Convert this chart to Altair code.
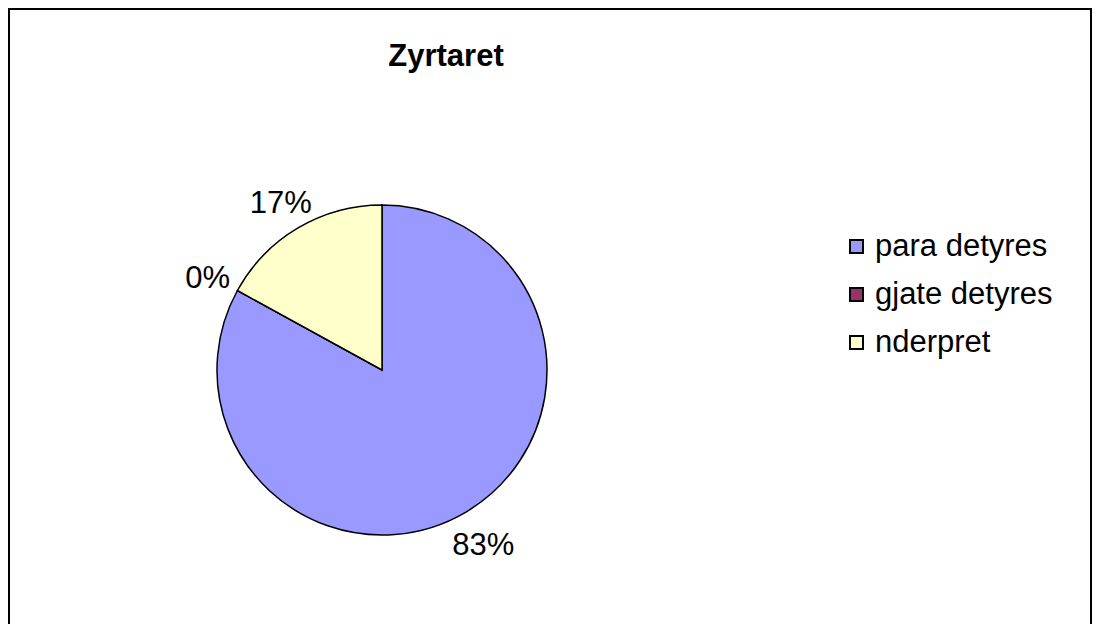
import altair as alt
import pandas as pd

categories = ["para detyres", "gjate detyres", "nderpret"]
values = [83, 0, 17]
labels = ["83%", "0%", "17%"]
colors = ["#9999FF", "#993366", "#FFFFCC"]
title_text = "Zyrtaret"

df = pd.DataFrame({"cat": categories, "val": values, "lab": labels, "idx": [0, 1, 2]})

FONT = "Liberation Sans"
FS = 31
W, H = 1084, 616
CX, CY, R = 374, 362, 165

base = alt.Chart(df).encode(
    theta=alt.Theta("val:Q", stack=True),
    order=alt.Order("idx:Q"),
)

pie = base.mark_arc(radius=R, stroke="black", strokeWidth=1.5).encode(
    x=alt.value(CX), y=alt.value(CY),
    color=alt.Color(
        "cat:N",
        scale=alt.Scale(domain=categories, range=colors),
        sort=categories,
        legend=alt.Legend(
            title=None, orient="none", legendX=833, legendY=223,
            symbolType="square", symbolSize=169, symbolStrokeColor="black",
            symbolStrokeWidth=2, labelFont=FONT, labelFontSize=FS,
            labelColor="black", rowPadding=16, labelOffset=3,
            labelLimit=400,
        ),
    ),
)

text = base.mark_text(radius=199, dy=5, font=FONT, fontSize=FS, color="black").encode(
    x=alt.value(CX), y=alt.value(CY), text="lab:N"
)

one = pd.DataFrame({"a": [0]})
title = alt.Chart(one).mark_text(font=FONT, fontSize=FS, fontWeight="bold", color="black").encode(
    x=alt.value(438), y=alt.value(49), text=alt.value(title_text)
)
frame_top = alt.Chart(one).mark_rule(color="black", strokeWidth=2).encode(
    x=alt.value(0), x2=alt.value(W), y=alt.value(1), y2=alt.value(1)
)
frame_left = alt.Chart(one).mark_rule(color="black", strokeWidth=2).encode(
    x=alt.value(1), x2=alt.value(1), y=alt.value(0), y2=alt.value(H)
)
frame_right = alt.Chart(one).mark_rule(color="black", strokeWidth=2).encode(
    x=alt.value(W - 1), x2=alt.value(W - 1), y=alt.value(0), y2=alt.value(H)
)

chart = alt.layer(pie, text, title, frame_top, frame_left, frame_right).properties(
    width=W, height=H, padding=0, autosize="none"
).configure_view(stroke=None).configure(background="white")

chart.save("out.html", embed_options={"renderer": "svg", "actions": False})
